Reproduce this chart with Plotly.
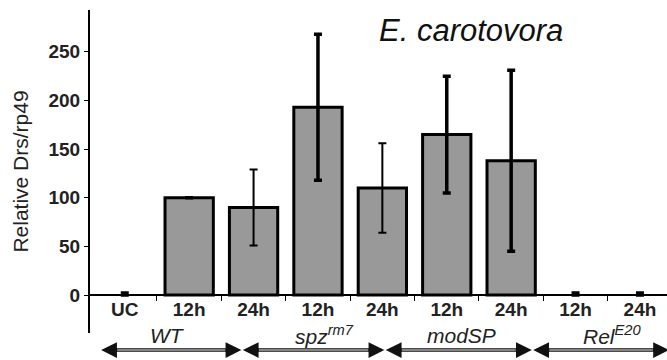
import plotly.graph_objects as go

# ---- data ----
cat_labels = ["UC", "12h", "24h", "12h", "24h", "12h", "24h", "12h", "24h"]
values = [1, 100, 90, 193, 110, 165, 138, 1, 1]
errors = [1, 0, 39, 75, 46, 60, 93, 1, 1]
group_names = ["WT", "spz<sup>rm7</sup>", "modSP", "Rel<sup>E20</sup>"]
group_label_x = [0.67, 3.1, 5.23, 7.56]
group_spans = [(-0.39, 1.81), (1.81, 4.03), (4.03, 6.32), (6.32, 8.45)]
y_ticks = [0, 50, 100, 150, 200, 250]
title_text = "E. carotovora"
y_title = "Relative Drs/rp49"

# error-bar stroke: thin for these categories (style only)
thin_err = {2, 4}

xs = list(range(len(values)))
y_range = [-39, 293]
x_range = [-0.54, 8.42]


def xpaper(v):
    return (v - x_range[0]) / (x_range[1] - x_range[0])


fig = go.Figure()
fig.add_trace(go.Bar(
    x=xs, y=values, width=0.75,
    marker=dict(color="#999999",
                line=dict(color="black",
                          width=[0 if v < 5 else 3 for v in values])),
    showlegend=False, hoverinfo="skip",
))

for thin in (True, False):
    idx = [i for i in xs if (i in thin_err) == thin]
    fig.add_trace(go.Scatter(
        x=[xs[i] for i in idx], y=[values[i] for i in idx], mode="markers",
        marker=dict(size=1, color="rgba(0,0,0,0)"),
        error_y=dict(type="data", array=[errors[i] for i in idx], visible=True,
                     color="black", thickness=2 if thin else 3.5, width=4),
        showlegend=False,
    ))

font = "Liberation Sans, Arial, sans-serif"
x_pos = (0 - y_range[0]) / (y_range[1] - y_range[0])

fig.update_layout(
    width=667, height=360,
    margin=dict(l=90, r=0, t=10, b=27),
    plot_bgcolor="white", paper_bgcolor="white",
    font=dict(family=font, color="black"),
    xaxis=dict(
        range=x_range, anchor="free", position=x_pos,
        showline=True, linecolor="black", linewidth=2,
        tickvals=xs, ticktext=["<b>%s</b>" % t for t in cat_labels],
        ticks="", ticklabelstandoff=-3,
        tickfont=dict(size=19, family=font, color="#222"),
        minor=dict(tickvals=[i + 0.5 for i in xs[:-1]], ticks="outside",
                   ticklen=5, tickcolor="black", tickwidth=1),
        showgrid=False, zeroline=False,
    ),
    yaxis=dict(
        range=y_range, tickvals=y_ticks,
        ticktext=["<b>%d</b>" % v for v in y_ticks],
        showline=True, linecolor="black", linewidth=2,
        ticks="outside", ticklen=4, tickcolor="black",
        tickfont=dict(size=19, family=font, color="#222"),
        showgrid=False, zeroline=False,
        title=dict(text=y_title, font=dict(size=21, family=font, color="#222"),
                   standoff=14),
    ),
)

ann = [dict(text="<i>" + title_text + "</i>", x=xpaper((471 - 125) / 64.4),
            y=(333 - 31) / 323, xref="paper", yref="paper", showarrow=False,
            xanchor="center", yanchor="middle",
            font=dict(size=31, family=font, color="#111"))]

for name, gx in zip(group_names, group_label_x):
    ann.append(dict(text="<i>" + name + "</i>", x=xpaper(gx), y=(333 - 335) / 323,
                    xref="paper", yref="paper", showarrow=False,
                    xanchor="center", yanchor="middle",
                    font=dict(size=21, family=font, color="#222")))

arrow_y = (333 - 350) / 323
for a, b in group_spans:
    ann.append(dict(x=xpaper(b), y=arrow_y, ax=xpaper(a), ay=arrow_y,
                    xref="x domain", yref="y domain",
                    axref="x domain", ayref="y domain",
                    text="", showarrow=True, arrowhead=2, arrowside="end+start",
                    arrowsize=0.9, arrowwidth=3.5, arrowcolor="#111"))
for a, b in group_spans:
    ann.append(dict(x=xpaper(b - 0.25), y=arrow_y, ax=xpaper(a + 0.25), ay=arrow_y,
                    xref="x domain", yref="y domain",
                    axref="x domain", ayref="y domain",
                    text="", showarrow=True, arrowhead=0, arrowwidth=1.5,
                    arrowcolor="#aaaaaa"))

fig.update_layout(annotations=ann)
fig.write_html("out.html")
